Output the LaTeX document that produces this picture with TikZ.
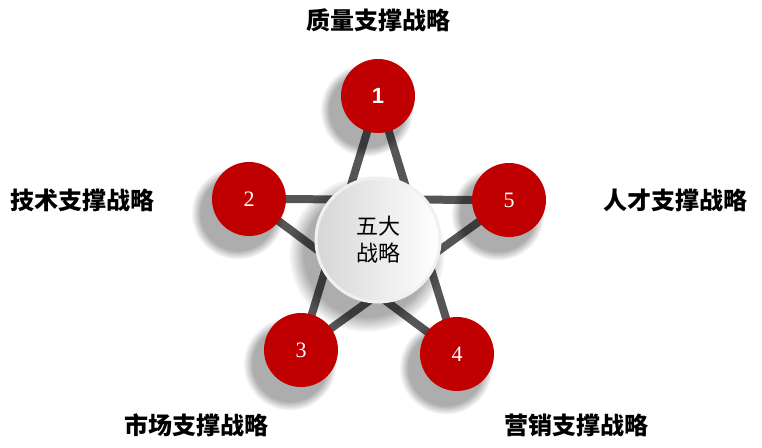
\documentclass[tikz,border=0pt]{standalone}
\usepackage{fontspec}
\newfontfamily\cjk{Noto Sans CJK SC}
\newfontfamily\numsans{Liberation Sans}
\newfontfamily\numserif{Liberation Serif}
\usetikzlibrary{shadows, backgrounds, fadings}
\definecolor{stred}{RGB}{192,0,0}
\definecolor{stline}{RGB}{85,85,85}
\definecolor{sttext}{RGB}{0,0,0}

\begin{document}
\begin{tikzpicture}[x=1pt, y=-1pt,
  softshadow/.style={general shadow={shadow scale=1.26, shadow xshift=-9pt,
      shadow yshift=-11pt, fill=black, opacity=.32,
      path fading={circle with fuzzy edge 20 percent}}},
  numdot/.style={circle, fill=stred, minimum size=74pt, inner sep=0pt,
      text=white, font=\numserif\fontsize{22}{22}\selectfont, softshadow},
  hub/.style={circle, minimum size=124pt, inner sep=0pt, draw=gray!12,
      line width=3pt, left color=gray!32, right color=white, softshadow,
      align=center, text=sttext, font=\cjk\fontsize{22}{27}\selectfont},
  tag/.style={text=sttext, font=\cjk\bfseries\fontsize{24}{24}\selectfont},
  link/.style={stline, line width=8pt}]
\useasboundingbox (0,0) rectangle (762,447);

% centre
\node[hub] (hub) at (378,240) {五大\\战略};

% numbered circles
\node[numdot, font=\numsans\bfseries\fontsize{22}{22}\selectfont] (n1) at (378,96) {1};
\node[numdot] (n2) at (249,199) {2};
\node[numdot] (n3) at (301,350) {3};
\node[numdot] (n4) at (457,354) {4};
\node[numdot] (n5) at (509,200) {5};

% star
\begin{scope}[on background layer]
  \draw[link] (n1.center) -- (n3.center);
  \draw[link] (n1.center) -- (n4.center);
  \draw[link] (n2.center) -- (n5.center);
  \draw[link] (n2.center) -- (n4.center);
  \draw[link] (n5.center) -- (n3.center);
\end{scope}

% labels
\node[tag] (t1) at (378,20)  {质量支撑战略};
\node[tag] (t2) at (82,200)  {技术支撑战略};
\node[tag] (t5) at (675,200) {人才支撑战略};
\node[tag] (t3) at (196,425) {市场支撑战略};
\node[tag] (t4) at (576,425) {营销支撑战略};
\end{tikzpicture}
\end{document}
